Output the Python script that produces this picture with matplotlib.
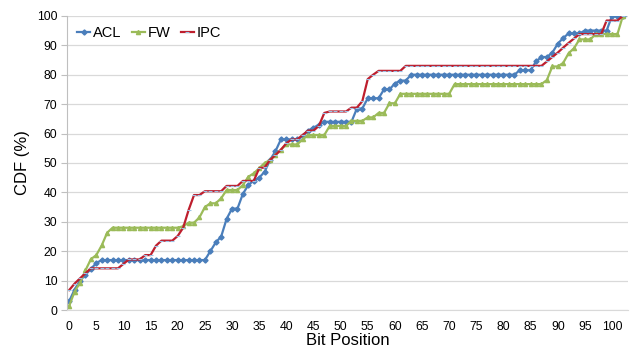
import matplotlib.pyplot as plt
import numpy as np

plt.rcParams['font.family'] = ['Liberation Sans', 'DejaVu Sans']

# bit position 0..102
bits = list(range(103))

acl = ([3, 7, 10, 12, 14, 16] + [17] * 20 +
       [20, 23, 25, 31, 34.5, 34.5, 39.5, 42.5, 44, 45, 47, 51, 54,
        58, 58, 58, 58, 59, 61, 62, 63] + [64] * 6 +
       [68.5, 68.5, 72, 72, 72, 75, 75, 77, 78, 78] + [80] * 20 +
       [81.5, 81.5, 81.5, 84.5, 86, 86, 87.5, 90.5, 92.5, 94, 94, 94] +
       [95] * 5 + [100, 100, 100])

fw = ([1.4, 6.3, 9.3, 13.5, 17.3, 18.7, 22, 26.3] + [28] * 13 +
      [28.5, 29.7, 29.7, 31.5, 35, 36.3, 36.3, 38, 40.8, 40.8, 40.8,
       42.5, 45.3, 46.5, 48.2, 50, 51, 52.7, 54.5, 56.3, 56.3, 56.3, 58,
       59.5, 59.5, 59.5, 59.5, 62.6, 62.6, 62.6, 62.6, 64.3, 64.3, 64.3,
       65.5, 65.5, 67, 67, 70.3, 70.3] + [73.5] * 10 + [76.8] * 17 +
      [78.2, 82.8, 82.8, 84, 87.3, 89, 92, 92, 92] + [93.8] * 5 + [100])

ipc = ([6.8, 9, 10.8, 12.5, 14.2, 14.2, 14.2, 14.2, 14.2, 14.2, 15.7,
        17.2, 17.2, 17.2, 18.7, 18.7, 21.9, 23.6, 23.6, 23.6, 25.2, 28,
        34, 39.1, 39.1, 40.4, 40.4, 40.4, 40.4, 42.2, 42.2, 42.2, 43.9,
        43.9, 43.9, 48.2, 48.5, 51, 52.7, 54.5, 56.7, 58, 58, 59.5, 61,
        61, 62.6, 67, 67.5, 67.5, 67.5, 67.5, 68.8, 68.8, 71, 78.5, 80,
        81.3, 81.3, 81.3, 81.3, 81.3] + [83] * 26 +
       [84.5, 86, 87.5, 89.2, 90.8, 92.3] + [93.8] * 5 +
       [98.4, 98.4, 98.4, 100])

fig = plt.figure(figsize=(6.38, 3.52), dpi=100)
ax = fig.add_axes([0.105, 0.119, 0.879, 0.836])

ax.plot(bits, acl, color='#4a7ebb', lw=1.6, marker='D', ms=2.6, label='ACL')
ax.plot(bits, fw, color='#9bbb59', lw=1.6, marker='^', ms=3, label='FW')
ax.plot(bits, ipc, color='#be1e2d', lw=1.6, marker='_', ms=3,
        mec='#9dc3e6', mew=0.8, label='IPC')

ax.set_xlim(-0.4, 102.9)
ax.set_ylim(0, 100)
ax.set_xticks(range(0, 101, 5))
ax.set_yticks(range(0, 101, 10))
ax.tick_params(axis='x', length=0, labelsize=8.8, pad=8)
ax.tick_params(axis='y', length=4, color='#bfbfbf', labelsize=8.8, pad=3)
ax.yaxis.grid(True, color='#d9d9d9', lw=0.9)
ax.set_axisbelow(True)
for s in ['top', 'right']:
    ax.spines[s].set_visible(False)
ax.spines['left'].set_color('#bfbfbf')
ax.spines['bottom'].set_color('#d9d9d9')

ax.set_xlabel('Bit Position', fontsize=12, labelpad=0)
ax.set_ylabel('CDF (%)', fontsize=12, labelpad=5)

ax.legend(loc='upper left', ncol=3, frameon=False, fontsize=10.5,
          handlelength=0.9, handletextpad=0.2, columnspacing=0.7,
          borderaxespad=0.3, bbox_to_anchor=(0.0, 1.0))

fig.savefig('out.png', dpi=100)
